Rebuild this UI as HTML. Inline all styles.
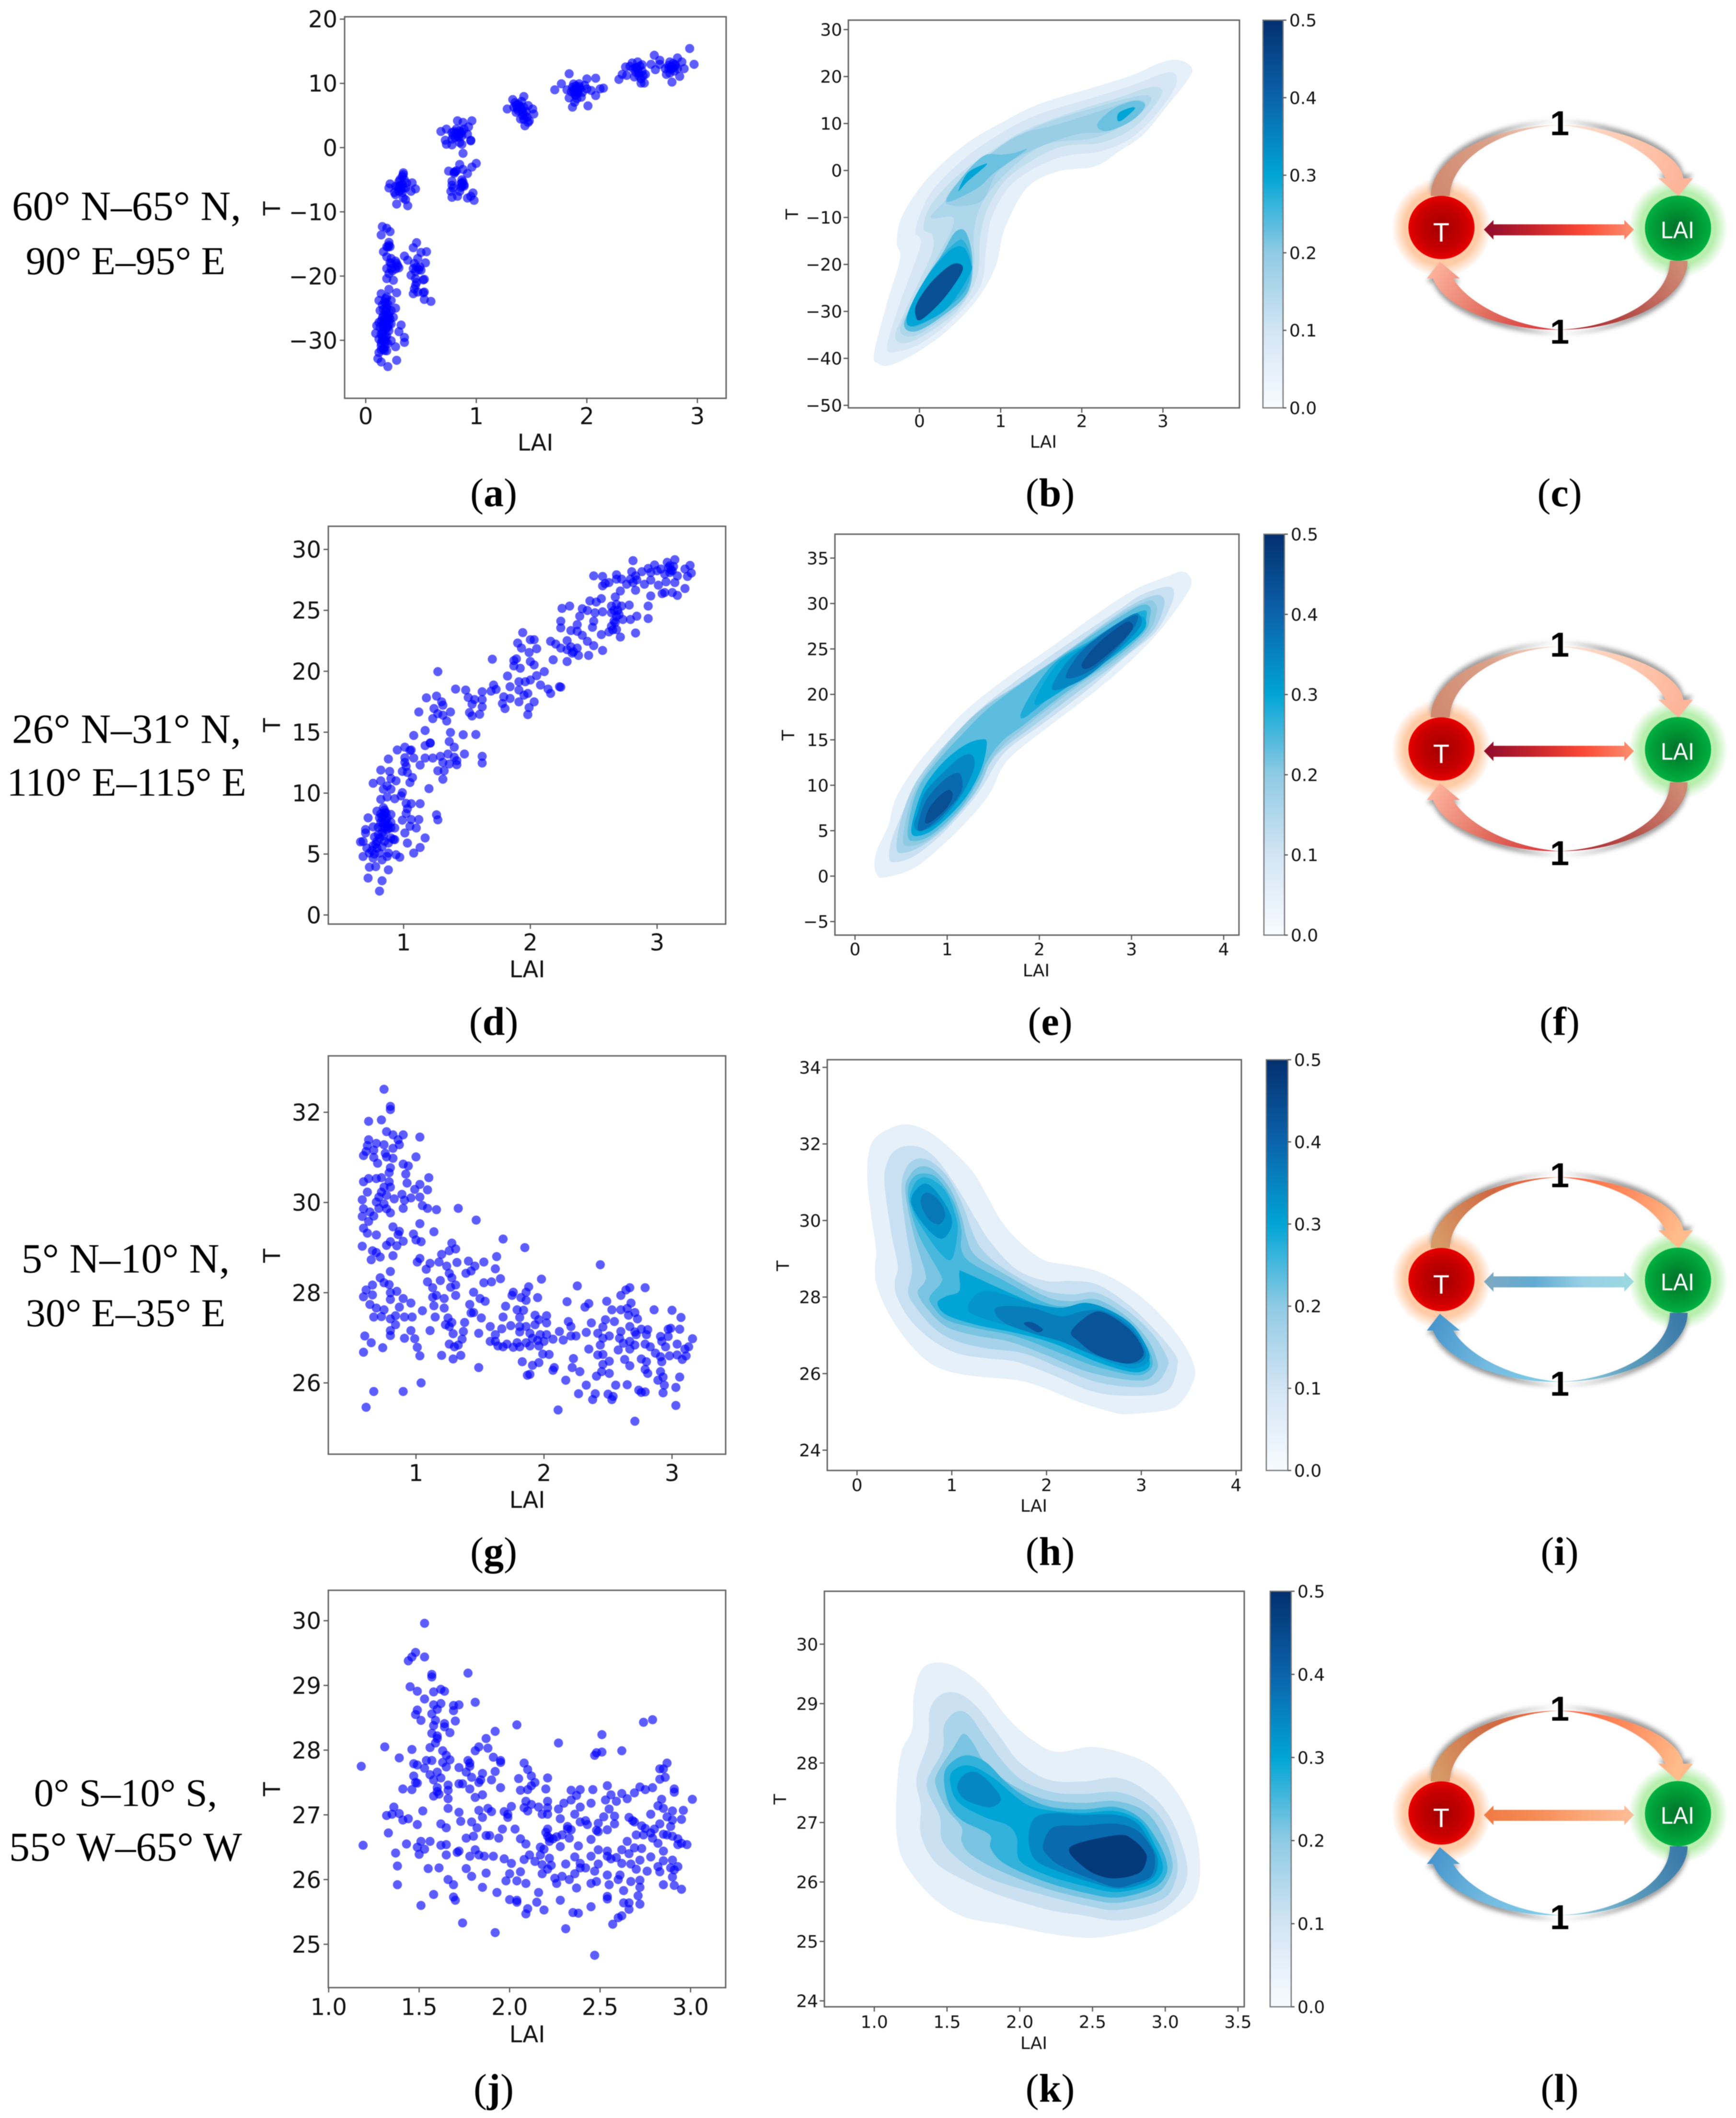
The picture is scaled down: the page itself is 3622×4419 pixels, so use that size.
<!DOCTYPE html>
<html lang="en">
<head>
<meta charset="utf-8">
<title>LAI and temperature scatter, density and causal diagrams</title>
<style>
html,body{margin:0;padding:0;background:#fff}
svg{display:block;filter:blur(.7px)}
.row{font-family:"Liberation Serif",serif;font-size:84px;fill:#000;text-anchor:middle}
.cap{font-family:"Liberation Serif",serif;font-size:84px;fill:#000;text-anchor:middle}
.cap tspan{font-weight:bold}
</style>
</head>
<body>
<svg id="fig" xmlns="http://www.w3.org/2000/svg" width="3622" height="4419" viewBox="0 0 3622 4419">
<rect width="3622" height="4419" fill="#fff"/>
<defs>
<filter id="shadowBlur" x="-20%" y="-20%" width="140%" height="140%"><feGaussianBlur stdDeviation="5"/></filter>
<radialGradient id="glowT"><stop offset="0" stop-color="#ffc9a0"/><stop offset=".75" stop-color="#ffcba6"/><stop offset="1" stop-color="#ffcba6" stop-opacity="0"/></radialGradient>
<radialGradient id="glowL"><stop offset="0" stop-color="#b5eeab"/><stop offset=".75" stop-color="#b8eeae"/><stop offset="1" stop-color="#b8eeae" stop-opacity="0"/></radialGradient>
<radialGradient id="ballT"><stop offset="0" stop-color="#a00000"/><stop offset=".75" stop-color="#cc0000"/><stop offset="1" stop-color="#e80000"/></radialGradient>
<radialGradient id="ballL"><stop offset="0" stop-color="#006f28"/><stop offset=".75" stop-color="#00a038"/><stop offset="1" stop-color="#00b040"/></radialGradient>
</defs>

<text class="row" style="font-size:87px" x="264" y="459">60° N–65° N,</text>
<text class="row" style="font-size:83px" x="262" y="572">90° E–95° E</text>
<text class="row" style="font-size:87px" x="264" y="1550">26° N–31° N,</text>
<text class="row" x="264" y="1660">110° E–115° E</text>
<text class="row" style="font-size:87px" x="262" y="2655">5° N–10° N,</text>
<text class="row" style="font-size:83px" x="262" y="2767">30° E–35° E</text>
<text class="row" style="font-size:82px" x="262" y="3768">0° S–10° S,</text>
<text class="row" style="font-size:86px" x="262" y="3882">55° W–65° W</text>

<text class="cap" x="1030" y="1056">(<tspan>a</tspan>)</text>
<text class="cap" x="2191" y="1056">(<tspan>b</tspan>)</text>
<text class="cap" x="3254" y="1056">(<tspan>c</tspan>)</text>
<text class="cap" x="1030" y="2159">(<tspan>d</tspan>)</text>
<text class="cap" x="2191" y="2159">(<tspan>e</tspan>)</text>
<text class="cap" x="3254" y="2159">(<tspan>f</tspan>)</text>
<text class="cap" x="1030" y="3265">(<tspan>g</tspan>)</text>
<text class="cap" x="2191" y="3265">(<tspan>h</tspan>)</text>
<text class="cap" x="3254" y="3265">(<tspan>i</tspan>)</text>
<text class="cap" x="1030" y="4385">(<tspan>j</tspan>)</text>
<text class="cap" x="2191" y="4385">(<tspan>k</tspan>)</text>
<text class="cap" x="3254" y="4385">(<tspan>l</tspan>)</text>
</svg>

<script>
/* ---------- chart values (LAI, T pairs) ---------- */
const xTicksA=[0,1,2,3];
const yTicksA=[20,10,0,-10,-20,-30];
const scatterA=[2.93,15.43,2.97,12.97,2.61,14.38,2.82,13.96,2.66,13.6,2.86,13.34,2.75,13.34,2.58,12.97,2.46,13.34,2.41,13.18,2.35,12.55,2.32,11.4,2.29,10.62,2.36,11.24,2.42,12.29,2.44,11.77,2.49,10.72,2.52,10.04,2.49,10.04,2.53,11.4,2.62,12.13,2.66,12.97,2.71,12.29,2.76,12.55,2.82,12.29,2.88,12.29,2.84,11.09,2.77,10.2,2.72,11.4,2.5,11.92,2.39,12.66,2.45,12.5,2.47,11.6,2.5,12.9,2.74,12.8,2.78,13.1,2.79,11.9,2.8,12.7,2.43,11,2.51,11.2,2.75,11.6,2.46,12.2,2.48,12.7,2.44,12.4,2.47,11.2,2.76,12.2,2.78,12.4,2.8,12.9,2.74,12.4,
1.84,11.5,1.71,9,1.77,9.94,2,10.7,2.08,10.8,2.15,9.26,2.12,9.15,2.08,8.1,2.01,6.5,1.87,6.3,1.89,7.06,1.84,7.74,1.93,9.94,1.91,9.15,1.82,9,1.87,9.4,1.96,8.6,2,9.15,2.04,8.9,1.98,9.7,1.9,8.1,1.95,7.85,1.89,8.6,1.92,8.9,1.86,8.7,1.94,9.2,1.9,9.6,1.88,9.9,1.9,9.2,1.92,8.5,1.88,8.9,1.93,9.5,1.89,8.3,1.91,7.6,
1.43,7.95,1.33,7.48,1.28,6.01,1.51,6.01,1.52,5.23,1.48,4.18,1.44,3.4,1.4,4.45,1.38,6.8,1.34,6.28,1.38,5.75,1.43,6.28,1.47,6.54,1.36,5.49,1.42,4.97,1.46,4.71,1.47,3.92,1.4,6.3,1.37,6.1,1.41,7.2,1.45,5.6,1.35,7,1.42,5.5,1.39,6.5,1.36,6.6,1.41,5.9,1.44,5,1.43,4.4,
.68,2.51,.73,2.88,.83,4.18,.88,3.92,.96,4.18,.93,3.24,.78,2.35,.85,2.62,.89,2.88,.72,1.15,.73,.52,.78,.42,.87,.52,.88,-.89,.95,1.05,.81,1.57,.87,1.83,.83,2.09,.92,2.09,.78,1.31,.85,.78,.95,1.15,.8,2.5,.84,1.6,.86,2.2,.82,2.9,.79,1.9,.83,1.8,.85,2.1,.82,2.3,.87,2.5,.84,2,
1,-2.46,.96,-3.03,.85,-2.62,.75,-3.66,.81,-3.77,.92,-4.03,.88,-3.4,.78,-5.23,.78,-5.86,.87,-5.49,.89,-6.01,.77,-6.8,.78,-7.74,.83,-7.58,.92,-7.85,.98,-8.21,.97,-7.06,.95,-7.58,.85,-6.8,.87,-5,.86,-6.2,.89,-5.8,.8,-4,.82,-3.6,.79,-6.3,.88,-5.3,.87,-6,.86,-5.6,.8,-3.8,
.34,-3.92,.31,-4.97,.22,-5.65,.21,-6.28,.27,-6.01,.42,-5.49,.45,-6.43,.41,-6.8,.36,-6.28,.3,-6.8,.27,-7.32,.34,-7.85,.28,-8.79,.38,-9.05,.36,-8.1,.33,-5.75,.29,-6.1,.32,-6.6,.37,-5.5,.3,-5.3,.33,-7,.26,-7,.35,-5,.31,-5.9,.34,-6.3,.3,-6.3,.33,-4.5,.34,-4.2,
.46,-14.8,.43,-15.59,.55,-16.21,.5,-16.32,.54,-17.94,.35,-16.89,.38,-17.52,.47,-17.26,.44,-18.04,.49,-18.57,.43,-18.83,.41,-19.87,.5,-19.09,.53,-20.5,.45,-20.4,.45,-21.44,.43,-22.75,.53,-22.49,.53,-23.64,.59,-23.95,.47,-22.49,.45,-19.3,.46,-21,.44,-22,.48,-19,.52,-20.6,.52,-22.6,.46,-18.6,
.15,-12.29,.19,-12.55,.22,-13.08,.14,-13.6,.21,-14.75,.19,-15.43,.22,-15.43,.16,-16.21,.19,-17,.23,-17.26,.23,-18.04,.27,-17.68,.19,-18.83,.23,-18.83,.3,-18.72,.21,-19.61,.19,-20.4,.25,-20.66,.28,-18.04,.2,-15.5,.21,-15.2,.29,-18.4,.27,-18.9,.24,-19.2,.22,-17.9,
.21,-22.07,.28,-22.6,.14,-22.75,.12,-23.8,.19,-23.27,.23,-23.8,.27,-25,.13,-25.37,.19,-24.84,.23,-25.37,.16,-26.15,.21,-26.41,.25,-26.41,.12,-27.2,.19,-27.2,.23,-27.46,.32,-27.62,.1,-27.72,.16,-27.98,.21,-28.5,.3,-28.66,.09,-28.92,.14,-29.03,.19,-29.29,.35,-29.55,.12,-29.81,.16,-30.07,.23,-30.07,.35,-30.33,.14,-30.86,.27,-31.01,.16,-31.38,.12,-31.9,.19,-31.64,.11,-32.85,.14,-33.37,.28,-33.11,.2,-34.1,.15,-24.5,.18,-25.5,.2,-26,.17,-26.8,.14,-27,.16,-28.5,.18,-29.5,.2,-28,.21,-27.5,.15,-30,.17,-31,.13,-28,.19,-25,.17,-24,.16,-29.3,.2,-30.5,.14,-31.5,.18,-26.2,.2,-26.6,.17,-27.3,.19,-27.9,.16,-27.5,.18,-28.2,.15,-28.8,.18,-30.2,.15,-29.5,.17,-29.9,.14,-30.4,.17,-31.6,.19,-26.9,.21,-25.8,.16,-25.2,.18,-24.2,.2,-24.4,.18,-23.5,.15,-26.5,.22,-26.7];

const xTicksD=[1,2,3];
const yTicksD=[30,25,20,15,10,5,0];
const scatterD=[2.81,29.08,3.14,29.16,3.26,28.69,3.22,28.39,3.27,28.06,3.24,27.78,3.22,26.79,3.16,26.23,3.06,26.46,3.04,26.37,2.95,26.18,2.93,25.35,2.93,24.33,2.84,24.52,2.83,23.14,2.98,28.72,3.08,28.94,3.1,28.66,2.93,28.44,3.03,28.39,2.95,28.11,3.06,27.97,3.12,28.25,3.16,27.83,3.14,27.28,3.07,27.34,3.01,27.06,2.95,27.48,2.88,28.17,2.8,28.17,2.83,27.83,2.9,27.14,2.83,26.65,2.81,27.28,2.79,27.56,2.76,27.14,2.68,27.92,2.68,27.56,2.72,27.56,2.62,27.28,2.59,27.2,2.57,27.78,2.5,27.83,2.57,27.01,3,28.25,3.12,26.46,3.09,28.5,3.11,28.3,3.1,28.1,3.13,28.6,2.84,27.5,
2.71,26.59,2.67,26.1,2.56,25.96,2.47,25.77,2.52,25.68,2.31,25.35,2.25,25.16,2.41,25.13,2.45,24.99,2.51,24.8,2.57,24.88,2.64,25.35,2.68,25.49,2.72,25.35,2.78,25.43,2.64,24.8,2.7,24.66,2.73,24.25,2.79,24.25,2.66,24.11,2.39,24.52,2.24,24.11,2.37,23.83,2.5,24.11,2.24,23.56,2.32,23.34,2.37,23.28,2.41,22.95,2.49,23.61,2.56,23.01,2.62,23.23,2.68,23.42,2.64,23.7,2.71,22.81,2.45,22.46,2.5,22.1,2.57,21.71,2.46,21.3,2.38,21.3,2.33,21.49,2.29,20.8,2.37,21.9,2.29,22.51,2.24,21.9,2.16,22.46,2.2,22.23,2.18,20.94,2.29,21.77,2.66,25,2.68,24.5,2.69,25,2.65,23.4,2.67,24,2.32,22,2.34,21.6,
1.94,23.17,2,22.59,2.03,22.59,1.9,22.32,1.93,21.9,2.05,21.85,1.99,21.54,2,20.8,2.03,20.52,1.89,21.02,1.87,20.88,1.7,20.99,1.87,20.44,1.92,20.25,2.11,19.97,2.05,19.64,1.82,19.61,2,19.28,1.96,19.14,1.91,19.14,1.71,18.87,1.84,18.73,2.08,18.87,2.23,18.73,2.14,18.54,2.16,18.18,1.91,18.46,1.98,18.18,1.73,18.51,1.69,18.37,1.79,17.9,1.84,17.77,1.91,17.49,2.03,17.49,1.78,17.35,1.8,16.94,1.99,17.02,1.98,16.44,1.95,18.04,2.24,18.7,
1.27,19.97,1.41,18.54,1.49,18.46,1.62,18.32,1.26,17.96,1.18,17.82,1.3,17.49,1.31,17.21,1.24,16.94,1.51,17.85,1.56,17.68,1.62,17.68,1.54,17.3,1.62,17.08,1.12,16.66,1.27,16.52,1.37,16.66,1.31,16.39,1.52,16.61,1.6,16.47,1.54,16.33,1.23,16.11,1.34,15.92,1.17,15.14,1.08,14.73,1.37,14.98,1.57,14.81,1.47,14.79,1.36,14.23,1.21,14.12,1.17,13.9,1.4,13.77,1.01,13.77,.95,13.54,1.06,13.54,1.48,13.21,1.62,13.02,1.62,12.47,1.08,12.88,1.17,12.88,1.23,12.88,1.29,13.02,1.35,13.21,1.4,12.94,1.42,12.66,1.42,12.33,1.31,12.52,1.36,12.39,.88,12.8,1.01,12.52,1.13,12.3,1.27,11.83,1.32,11.83,.82,11.89,.89,11.78,.99,11.78,1.03,11.7,1.07,11.28,1.31,11.14,.9,11.2,.82,11.01,.76,10.81,.94,11.01,1.05,10.87,1.2,10.37,.87,10.59,.84,10.32,.9,10.32,.99,10.04,.98,9.77,1.02,12.2,1.01,12.9,1.21,14.1,1.05,13.5,
.82,9.49,.93,9.54,.87,9.68,1.02,9.16,1.13,9.13,1.06,9.13,1.03,8.72,1.26,8.22,1.27,7.81,1.02,8.33,.79,8.52,.72,7.97,.85,8.39,.81,7.97,.87,7.97,.9,8.25,.76,7.23,.7,7.01,.85,7.14,.9,7.14,.99,7.78,1.06,7.83,1.12,7.83,1.05,7.28,1.1,7.14,.83,6.73,.93,7.14,.7,6.73,1.01,6.73,.77,6.4,1.17,6.32,.9,6.32,.93,6.18,.79,6.04,.68,6.04,.85,6.04,.88,5.9,1.03,5.9,1.13,5.54,.71,5.49,.79,5.49,1.08,5.08,.73,5.08,.81,5.08,.88,5.08,.68,4.8,.76,4.66,.87,4.8,.97,4.74,.94,4.94,.83,4.52,.73,3.92,.78,3.97,.88,3.7,.72,3.03,.83,2.81,.81,1.96,.83,8,.84,7.5,.86,7.8,.88,7.4,.85,8.6,.82,7.6,.87,7,.8,7.2,.84,6.5,.78,5.8,.81,6.3,.75,5.3,.9,7.6,.84,8.2,.86,8.4,.83,7.2,.85,7.7,.87,7.3,.82,8.3,.88,7.1,.8,6.6,.83,5.6,.77,5,.76,5.7,.66,6,.84,8.8,.92,6.2];

const xTicksG=[1,2,3];
const yTicksG=[32,30,28,26];
const scatterG=[.75,32.51,.8,32.13,.8,32.06,.63,31.8,.73,31.83,.77,31.57,.82,31.5,.9,31.5,1.03,31.45,.86,31.39,.87,31.28,.63,31.39,.62,31.26,.69,31.31,.75,31.28,.61,31.13,.67,31.16,.76,31.09,.82,31.2,.59,31.04,.67,31,.77,31.01,.82,30.98,1,31.01,.7,30.87,.9,30.85,.94,30.81,.8,30.77,.92,30.63,.79,30.66,1.1,30.55,.59,30.46,.63,30.53,.69,30.53,.73,30.55,.93,30.43,1.03,30.4,.79,30.46,.75,30.34,.8,30.34,.99,30.29,1.09,30.28,.62,30.23,.73,30.23,.89,30.18,.77,30.16,1.03,30.12,.58,30.06,.71,30.12,.83,30.08,.96,30.1,.91,30.05,.69,30.01,.75,29.97,1.05,29.93,1.09,29.87,1.16,29.84,1.33,29.87,.59,29.86,.71,29.87,.77,29.86,.9,29.87,.64,29.79,.8,29.77,.58,29.69,.67,29.7,.63,29.58,1.03,29.53,1.47,29.61,.82,29.46,.59,29.43,.87,29.36,1.14,29.35,.62,29.32,.98,29.3,.69,29.28,.86,29.29,1,29.17,1.68,29.19,1.04,29.13,.8,29.13,.9,29.14,.77,29.05,1.28,29.1,1.85,29,.58,29.03,.85,29.04,1.31,28.97,1.26,28.93,.66,28.93,.69,28.89,1.2,28.85,.82,28.82,1.63,28.8,.72,28.79,1.03,28.76,.65,28.73,1.01,28.68,1.18,28.68,1.32,28.67,1.41,28.7,1.53,28.68,1.11,28.65,2.44,28.62,1.24,28.59,1.46,28.59,1.62,28.53,1.08,28.52,.8,28.47,1.26,28.43,1.43,28.48,1.39,28.43,.72,28.33,1.28,28.33,1.66,28.31,1.98,28.3,1.09,28.24,1.19,28.27,.75,28.22,1.59,28.24,1.53,28.22,.79,28.18,1.31,28.17,2.26,28.15,.66,28.17,1.13,28.11,1.27,28.12,2.79,28.11,2.67,28.11,2.64,28.06,.61,28.06,.85,28.03,1.45,28.01,1.76,28.01,1.88,28.13,.66,27.95,.8,28,1.75,27.94,1.86,28.01,2.6,27.94,.59,27.91,1.31,27.94,1.13,27.9,1.16,27.94,.9,27.87,1.95,27.89,1.82,27.89,1.86,27.83,.8,27.85,2.49,27.81,2.18,27.8,1.22,27.87,1.5,27.87,1.54,27.81,.96,27.77,1.14,27.71,1.42,27.74,2.35,27.76,2.68,27.77,1.7,27.7,1.22,27.66,.64,27.74,.87,27.68,.69,27.66,2.32,27.68,2.53,27.62,2.86,27.62,3,27.61,1.79,27.62,1.84,27.61,.75,27.62,1.05,27.6,2.65,27.65,2.6,27.62,2.71,27.56,1.43,27.55,1.45,27.56,2.02,27.49,1.93,27.5,.84,27.49,.73,27.47,.67,27.46,.91,27.46,.97,27.46,1.68,27.46,1.81,27.45,1.15,27.46,1.51,27.44,3.07,27.45,2.66,27.5,2.73,27.42,2.48,27.4,.8,27.42,1.25,27.44,1.96,27.4,2.19,27.36,1.28,27.34,2.55,27.36,2.02,27.33,1.38,27.34,1.93,27.29,.84,27.29,2.37,27.33,1.23,27.29,1.58,27.25,1.74,27.27,2.21,27.25,1.81,27.25,1.86,27.25,2.67,27.25,1.26,27.25,1.67,27.2,2.46,27.24,2.97,27.19,2.99,27.21,3.06,27.19,2.81,27.18,2.76,27.19,.96,27.16,1.11,27.16,.8,27.16,1.37,27.14,1.81,27.13,2.6,27.14,1.49,27.1,1.89,27.1,1.29,27.09,2.33,27.12,2.42,27.1,2.71,27.13,2.02,27.07,2.12,27.14,1.62,27.07,2.21,27.04,2.25,27.04,.8,27.05,1.97,27.07,2.8,27.07,2.72,27.07,2.91,27.03,2.51,27.04,.6,27.04,2.97,27.03,2.46,26.99,2.59,26.99,.91,26.99,1.36,26.97,1.91,26.99,3.16,26.98,.99,26.98,2.07,26.97,2.15,26.95,1.62,26.92,1.95,26.94,2.92,26.92,2.67,26.92,1.58,26.92,1.71,26.86,2,26.92,.65,26.89,2.62,26.88,1.79,26.89,1.86,26.89,1.26,26.86,2.44,26.84,2.71,26.84,1.33,26.84,2.79,26.86,3.04,26.86,1.64,26.82,1.89,26.82,1.68,26.8,1.76,26.79,1.81,26.8,1.96,26.82,1.3,26.8,1.01,26.79,.74,26.78,2.83,26.8,2.95,26.8,3.13,26.8,2.35,26.75,2.67,26.75,2.58,26.73,3.1,26.75,2.87,26.66,.59,26.68,1.99,26.64,2.04,26.63,1.03,26.6,1.2,26.61,2.42,26.62,2.46,26.63,1.35,26.61,3.11,26.6,3.04,26.62,2.98,26.6,2.91,26.58,3.08,26.52,2.23,26.54,2.63,26.52,2.76,26.53,1.29,26.53,1.83,26.47,2.8,26.47,2.51,26.48,2.46,26.41,2.92,26.47,1.96,26.45,1.91,26.39,2.67,26.38,2.08,26.34,2.22,26.34,1.49,26.34,2.07,26.28,2.79,26.3,2.28,26.25,2.45,26.25,2.51,26.21,2.91,26.25,2.81,26.21,1.89,26.19,1.87,26.17,2.41,26.15,3.06,26.13,2.93,26.13,2.17,26.06,2.89,26.06,1.04,26,2.33,25.95,2.56,25.95,2.65,25.96,2.94,25.95,3.03,25.9,.9,25.81,.67,25.81,2.74,25.84,2.79,25.8,2.76,25.79,2.93,25.78,2.27,25.76,2.4,25.76,2.5,25.75,2.54,25.7,2.38,25.63,2.53,25.63,3.03,25.5,.61,25.46,2.11,25.4,2.71,25.15];

const xTicksJ=[1,1.5,2,2.5,3];
const yTicksJ=[30,29,28,27,26,25];
const scatterJ=[1.53,29.96,1.48,29.51,1.53,29.44,1.46,29.44,1.44,29.38,1.57,29.17,1.57,29.13,1.77,29.19,1.45,28.98,1.49,28.91,1.62,28.94,1.64,28.91,1.58,28.9,1.53,28.79,1.81,28.74,1.58,28.7,1.62,28.72,1.69,28.69,1.72,28.7,1.49,28.62,1.6,28.63,1.69,28.61,1.48,28.55,1.57,28.56,1.51,28.46,1.59,28.46,1.7,28.45,1.58,28.38,1.64,28.41,2.04,28.39,2.74,28.43,2.79,28.47,1.64,28.36,1.92,28.29,1.67,28.27,1.57,28.26,1.6,28.22,2.51,28.24,1.6,28.18,1.87,28.18,2.27,28.11,1.59,28.11,1.83,28.05,1.31,28.05,1.56,28.04,1.88,28.03,1.46,28.01,1.81,27.99,2.62,27.99,2.51,27.97,1.63,27.99,2.48,27.96,2.47,27.92,1.65,27.92,1.91,27.89,1.39,27.88,1.67,27.85,1.95,27.84,1.54,27.84,1.57,27.84,1.77,27.84,1.95,27.81,1.63,27.81,1.47,27.79,1.49,27.77,1.78,27.8,2.08,27.8,2.87,27.8,1.65,27.74,1.18,27.75,1.72,27.73,1.53,27.72,1.78,27.75,2.1,27.7,2.83,27.71,2.85,27.71,1.6,27.66,1.76,27.66,1.85,27.64,1.92,27.67,1.56,27.62,1.47,27.6,1.79,27.58,2.21,27.57,2.12,27.6,2.05,27.56,2.86,27.58,2.83,27.55,1.58,27.54,1.62,27.57,1.84,27.54,1.9,27.54,1.83,27.5,2.14,27.5,1.48,27.5,1.49,27.49,1.72,27.48,1.74,27.48,1.66,27.46,2.54,27.45,2.12,27.45,1.95,27.42,2.72,27.43,2.79,27.42,1.41,27.4,1.46,27.39,1.6,27.42,1.78,27.4,2.1,27.39,2.2,27.4,2.34,27.38,2.39,27.39,2.46,27.39,2.75,27.39,2.91,27.4,2.91,27.35,1.6,27.36,1.66,27.38,1.61,27.32,2.06,27.38,2.62,27.33,2.56,27.31,2.69,27.34,1.85,27.31,2.37,27.3,1.81,27.27,1.58,27.29,1.66,27.25,2.65,27.25,3.01,27.24,2.53,27.23,2.84,27.24,2.21,27.21,2.59,27.21,2.34,27.23,2.09,27.21,2.3,27.18,2.45,27.18,2.82,27.14,2.12,27.16,2.01,27.13,1.36,27.12,2.16,27.12,2.21,27.11,2.08,27.11,2.39,27.12,1.66,27.1,1.88,27.1,2.85,27.1,2.27,27.09,2.55,27.09,1.83,27.07,1.52,27.06,2.96,27.07,1.9,27.05,1.97,27.05,2.9,27.06,2.1,27.06,1.72,27.04,1.39,27.02,2.78,27.01,2.21,27.01,1.99,27.01,2.18,27.01,1.32,26.99,1.35,27.01,2.36,27.01,2.87,26.97,2.52,26.97,1.85,26.96,2.58,26.98,1.99,26.96,2.66,26.96,2.28,26.94,2.95,26.93,2.9,26.92,1.44,26.94,1.41,26.92,2.68,26.91,2.69,26.89,1.73,26.9,2.39,26.89,1.62,26.86,1.79,26.89,2.83,26.86,2.42,26.91,2.49,26.87,1.49,26.85,2.58,26.86,2.43,26.85,2.73,26.83,2.32,26.82,2.89,26.82,2.75,26.79,1.65,26.8,1.82,26.8,2.32,26.78,2.54,26.77,2.03,26.78,1.96,26.78,2.48,26.76,2.34,26.77,2.8,26.78,2.21,26.78,2.49,26.74,2.2,26.73,2.78,26.72,1.33,26.72,2.85,26.7,2.7,26.69,2.87,26.69,2.21,26.67,2.29,26.69,2.26,26.66,1.87,26.68,1.89,26.68,2.74,26.69,2.9,26.67,1.8,26.67,2.22,26.64,2.24,26.63,1.94,26.64,1.76,26.64,2.33,26.64,2.79,26.64,2.93,26.63,2.95,26.56,2.06,26.63,2.45,26.62,2.65,26.59,2.22,26.59,2.82,26.56,1.56,26.59,1.51,26.59,2.09,26.55,2.98,26.54,2.93,26.54,1.19,26.53,1.62,26.53,1.65,26.54,1.43,26.55,2.38,26.52,2.28,26.51,2.73,26.48,2.69,26.49,2.17,26.5,1.49,26.5,1.53,26.47,2.49,26.46,1.81,26.46,2.54,26.44,2.62,26.46,2.19,26.47,1.72,26.44,1.71,26.42,2.85,26.44,1.37,26.41,1.5,26.39,1.65,26.38,2.11,26.38,1.83,26.38,2.17,26.38,2.66,26.4,1.91,26.36,1.78,26.36,1.86,26.36,2.78,26.35,2.45,26.36,2.54,26.36,2.36,26.35,2.08,26.31,1.97,26.32,2.22,26.33,2.59,26.34,2.56,26.32,2.85,26.29,2.9,26.3,2.72,26.3,2.14,26.28,2.31,26.24,2.39,26.25,2.01,26.25,2.49,26.24,2.62,26.25,2.67,26.24,1.38,26.21,2.18,26.23,2.23,26.22,2.82,26.2,2.93,26.2,2.42,26.18,1.55,26.17,1.61,26.18,1.76,26.17,2.39,26.18,2.89,26.18,2.21,26.16,2.7,26.16,2.47,26.13,2.06,26.12,2,26.09,2.83,26.12,1.87,26.1,2.76,26.13,2.18,26.09,2.91,26.15,2.36,26.09,2.54,26.07,2.61,26.07,2.29,26.05,1.79,26.05,2.9,26.04,1.66,26,2.25,26.02,2.33,26,1.98,25.98,2.04,25.98,2.6,26,2.72,25.99,2.67,25.97,2.48,25.97,2.45,25.94,2.26,25.94,2.09,25.94,2.55,25.92,1.69,25.92,2.85,25.92,1.38,25.92,2.91,25.91,2.72,25.88,1.85,25.88,2.37,25.87,2.95,25.85,2.63,25.83,2.16,25.8,1.93,25.8,1.58,25.77,2.71,25.75,2.54,25.74,1.69,25.73,2.54,25.7,1.7,25.68,2,25.69,2.28,25.68,2.04,25.68,2.04,25.65,2.15,25.65,2.63,25.64,2.66,25.64,2.72,25.62,1.51,25.6,2.45,25.58,2.1,25.55,2.19,25.53,2.66,25.54,2.35,25.49,2.38,25.48,2.09,25.47,2.62,25.44,2.6,25.41,2.57,25.31,1.74,25.33,2.31,25.24,1.92,25.18,2.47,24.83];

/* density panels: contour level value + closed contour (LAI, T pairs) */
const xTicksB=[0,1,2,3];
const yTicksB=[30,20,10,0,-10,-20,-30,-40,-50];
const kdeBLevels=[.05,.09,.125,.155,.24,.185,.27,.225,.225,.3,.3,.3,.44];
const kdeBContours=[
[-.56,-38.92,-.51,-41.08,-.36,-41.43,-.05,-38.92,.33,-34.27,.71,-27.46,.94,-20.29,1.05,-12.4,1.32,-3.8,1.7,-.22,2.16,.86,2.46,4.09,2.76,7.67,3.07,14.12,3.3,19.14,3.36,21.65,3.22,23.44,2.99,23.08,2.61,20.22,2.08,17.35,1.47,14.12,1.01,10.18,.56,5.52,.1,-1.65,-.21,-9.53,-.28,-15.27,-.24,-18.85,-.4,-28.17],
[-.4,-37.49,-.28,-38.57,.02,-36.77,.4,-31.76,.75,-24.59,.82,-16.7,.9,-9.53,1.17,-2.37,1.7,2.65,2.23,4.09,2.61,6.95,2.92,11.97,3.15,17.71,3.15,20.57,2.99,20.57,2.61,18.06,2.08,15.2,1.47,11.97,1.01,8.03,.56,2.65,.18,-3.8,.02,-8.82,-.05,-13.12,.01,-15.99,-.24,-28.17],
[-.3,-35.34,-.17,-36.77,.1,-34.62,.48,-29.61,.71,-22.44,.75,-13.84,.86,-7.38,1.13,-.93,1.7,4.8,2.23,5.88,2.61,8.75,2.88,13.41,2.99,16.99,2.84,17.71,2.46,15.56,1.93,12.69,1.32,8.75,.94,4.8,.48,-.93,.14,-7.38,.05,-12.4,.16,-13.84,.14,-18.14,-.17,-29.61],
[-.24,-33.91,-.09,-35.34,.18,-32.83,.56,-27.46,.67,-20.29,.67,-13.12,.78,-6.67,1.09,-.22,1.55,5.52,2.16,6.95,2.61,10.54,2.83,14.12,2.83,15.91,2.61,15.56,2.16,13.41,1.62,10.54,1.17,6.95,.86,2.65,.48,-3.8,.18,-8.82,.16,-10.25,.4,-9.89,.4,-12.4,.25,-17.42,-.09,-28.17],
[-.19,-32.83,-.05,-34.27,.25,-31.4,.59,-26.02,.65,-18.85,.57,-13.12,.44,-13.12,.29,-17.42,-.05,-27.46],
[.33,-7.03,.75,-6.67,.97,-.22,1.36,4.09,1.93,7.67,2.31,8.39,2.69,11.97,2.78,14.48,2.61,14.84,2.23,12.69,1.7,9.82,1.24,7.67,.86,3.37,.48,-2.37],
[-.16,-31.76,-.05,-33.19,.29,-29.96,.57,-25.3,.64,-19.57,.54,-14.91,.4,-15.99,.18,-20.29,-.05,-26.74],
[.34,-6.67,.71,-3.8,.94,-.22,1.32,4.44,1.17,3.73,1.01,3.37,.78,3.01,.48,-2.37],
[2.19,9.82,2.31,8.39,2.61,10.54,2.78,13.76,2.65,14.84,2.38,13.05],
[-.16,-32.2,-.05,-33,.33,-29.5,.62,-22.08,.63,-19.57,.54,-16.34,.37,-17.06,.1,-22.44,-.09,-28.17],
[.48,-4.37,.59,-2.37,.82,1.08,.78,1.22,.59,-.57],
[2.44,10.68,2.5,10.75,2.65,13.05,2.61,13.41,2.46,12.33],
[-.05,-30.68,.02,-31.76,.29,-27.46,.52,-21.72,.5,-19.93,.37,-20.29,.14,-23.87,-.03,-28.17]];

const xTicksE=[0,1,2,3,4];
const yTicksE=[35,30,25,20,15,10,5,0,-5];
const kdeELevels=[.05,.115,.165,.2,.235,.3,.345,.39,.44,.28,.3,.345,.39,.44];
const kdeEContours=[
[.21,1.26,.24,.15,.32,-.15,.64,.89,.96,3.49,1.27,6.64,1.47,9.23,1.59,11.83,1.75,13.68,2.15,16.83,2.63,20.54,3.03,24.06,3.34,27.4,3.58,30.74,3.65,32.22,3.62,33.15,3.54,33.52,3.38,32.96,3.1,31.85,2.87,30.55,2.55,28.33,2.15,25.36,1.75,22.58,1.43,20.17,1.15,17.76,.88,14.79,.64,11.83,.44,8.49,.36,5.52,.24,2.93],
[.37,2.19,.42,1.52,.64,2.19,.92,4.41,1.21,7.56,1.39,9.97,1.53,12.38,1.69,14.24,2.07,17.02,2.55,20.73,2.95,24.25,3.26,26.85,3.42,29.63,3.46,31.29,3.38,31.85,3.1,30.92,2.83,29.07,2.47,26.66,2.07,23.88,1.67,20.91,1.37,18.5,1.11,15.91,.84,12.57,.64,9.6,.5,6.64,.4,4.04],
[.45,3.11,.52,2.56,.72,3.3,1,5.52,1.31,9.23,1.43,11.83,1.59,13.87,1.95,16.65,2.43,20.36,2.87,23.69,3.22,26.85,3.34,29.25,3.35,30.55,3.26,30.92,3.03,30,2.75,28.14,2.31,24.81,1.83,21.47,1.43,18.87,1.15,16.28,.88,13.31,.64,9.97,.5,6.27],
[.52,4.04,.58,3.3,.8,4.04,1.11,6.82,1.35,9.97,1.47,12.57,1.61,14.42,1.83,16.28,2.35,20.36,2.83,23.69,3.18,26.85,3.27,28.88,3.26,30,3.18,30.29,2.95,29.25,2.67,27.4,2.23,24.25,1.75,20.91,1.39,18.5,1.15,16.28,.88,12.94,.68,9.97,.58,7.38],
[.57,4.6,.64,3.86,.84,4.6,1.15,7.56,1.35,10.72,1.43,12.57,1.59,14.79,1.83,16.65,2.31,20.36,2.81,23.88,3.14,26.85,3.2,28.51,3.2,29.63,3.1,29.81,2.87,28.51,2.59,26.66,2.19,23.88,1.79,21.1,1.45,18.5,1.19,15.91,.92,12.94,.72,10.34,.62,7.75],
[.61,4.97,.68,4.41,.88,5.34,1.19,8.49,1.37,11.83,1.43,14.61,1.37,15.05,1.19,14.42,.96,12.57,.76,9.97,.66,7.38],
[.64,5.52,.72,4.97,.92,6.08,1.15,8.86,1.29,11.83,1.27,13.31,1.15,13.13,.96,11.46,.76,9.23,.68,7.01],
[.68,5.34,.76,5.15,.96,6.82,1.15,9.23,1.15,11.09,1.07,11.27,.92,10.16,.76,8.12],
[.76,5.9,.84,6.08,1,7.56,1.06,8.86,1.02,9.49,.92,8.86,.8,7.38],
[1.83,17.4,2.23,20.54,2.79,24.06,3.1,26.85,3.16,28.51,3.14,29.25,2.93,28.33,2.55,25.92,2.15,23.32,1.85,19],
[1.95,18.87,2.35,21.1,2.83,24.43,3.13,27.03,3.13,28.51,2.97,28.33,2.59,25.92,2.19,23.32],
[2.14,20.54,2.47,21.65,2.83,24.62,3.09,27.4,3.09,28.7,2.99,28.7,2.63,26.29,2.31,23.69],
[2.29,21.84,2.55,22.58,2.87,25.36,3.05,27.77,3.03,28.7,2.71,26.85,2.43,24.43],
[2.46,23.32,2.55,22.95,2.83,25.18,3,27.03,3,27.85,2.91,27.77,2.63,25.55]];

const xTicksH=[0,1,2,3,4];
const yTicksH=[34,32,30,28,26,24];
const kdeHLevels=[.05,.115,.165,.215,.25,.28,.3,.33,.37,.325,.36,.43,.43];
const kdeHContours=[
[.11,31.01,.12,31.72,.19,32.15,.36,32.42,.54,32.51,.75,32.33,.98,31.89,1.22,31.28,1.37,30.66,1.53,29.96,1.76,29.34,1.99,28.95,2.26,28.83,2.53,28.68,2.84,28.29,3.15,27.67,3.42,26.88,3.56,26.18,3.54,25.74,3.42,25.26,3.27,25.05,2.92,24.95,2.73,24.97,2.34,25.26,1.95,25.65,1.68,25.83,1.29,25.92,.98,26.05,.75,26.31,.52,26.88,.33,27.59,.21,28.29,.19,28.73,.2,29.25,.15,30.13],
[.29,31.01,.33,31.58,.44,31.89,.64,31.93,.83,31.63,1.06,30.84,1.25,30.05,1.41,29.43,1.68,28.73,1.99,28.42,2.26,28.42,2.53,28.33,2.84,27.85,3.11,27.23,3.35,26.53,3.38,26.18,3.31,25.65,3.15,25.45,2.76,25.43,2.45,25.56,2.07,25.96,1.68,26.31,1.37,26.4,1.06,26.53,.79,26.88,.56,27.41,.42,28.02,.4,28.42,.43,28.82,.36,29.69],
[.47,30.75,.5,31.28,.6,31.58,.75,31.58,.94,31.19,1.1,30.49,1.22,29.69,1.33,29.21,1.56,28.73,1.95,28.2,2.26,28.07,2.53,28.11,2.84,27.67,3.11,27.06,3.27,26.44,3.27,26.14,3.15,25.74,2.92,25.65,2.53,25.78,2.15,26.14,1.76,26.53,1.37,26.66,1.06,26.84,.83,27.15,.64,27.67,.54,28.11,.58,28.73,.52,29.69],
[.51,30.75,.56,31.19,.67,31.41,.81,31.32,.98,30.84,1.1,30.13,1.16,29.52,1.25,29.08,1.53,28.64,1.99,28.02,2.26,27.89,2.53,27.94,2.84,27.5,3.07,26.88,3.17,26.31,3.15,26.05,3.04,25.83,2.76,25.87,2.38,26.09,1.99,26.49,1.6,26.84,1.22,27.01,.94,27.23,.75,27.67,.64,28.11,.71,28.38,.72,28.64,.6,29.61],
[.54,30.84,.6,31.14,.71,31.23,.85,31.1,1.02,30.49,1.1,29.78,1.1,29.25,1.2,28.9,1.53,28.46,1.99,27.85,2.26,27.76,2.53,27.8,2.84,27.32,3.04,26.79,3.12,26.31,3.07,26.05,2.92,25.96,2.53,26.18,2.15,26.53,1.68,26.97,1.25,27.19,.94,27.41,.79,27.8,.77,28.02,.89,28.38,.87,28.64,.67,29.52,.56,30.31],
[.56,30.66,.64,31.06,.77,31.1,.94,30.75,1.04,30.13,1.06,29.69,1,28.99,.87,29.17,.67,29.87,.58,30.31],
[.85,27.85,.94,28.02,1.08,28.16,1.08,28.64,1.14,28.64,1.53,28.2,1.99,27.72,2.26,27.63,2.53,27.72,2.84,27.23,3,26.75,3.09,26.31,3.04,26.09,2.88,26.05,2.53,26.31,2.07,26.79,1.68,27.06,1.25,27.28,.94,27.54],
[.57,30.49,.67,30.92,.79,30.88,.96,30.31,1,29.87,.89,29.52,.71,29.87],
[.67,30.49,.73,30.73,.85,30.57,.93,30.18,.87,29.9,.75,30.05],
[1.17,27.67,1.27,28.09,1.45,28.13,1.84,27.85,2.15,27.72,2.42,27.85,2.69,27.63,2.92,27.23,3.07,26.62,3.07,26.31,2.92,26.14,2.65,26.31,2.15,26.84,1.76,27.15,1.37,27.41],
[1.45,27.63,1.53,27.76,1.84,27.72,2.15,27.5,2.38,27.63,2.61,27.63,2.88,27.23,3.04,26.62,3,26.31,2.8,26.27,2.46,26.53,2.15,26.84,1.84,27.06,1.56,27.32],
[2.26,27.1,2.45,27.54,2.61,27.59,2.88,27.15,3.02,26.62,2.98,26.36,2.82,26.27,2.53,26.49,2.34,26.84],
[1.76,27.32,1.85,27.34,1.96,27.16,1.91,27.08,1.82,27.19]];

const xTicksK=[1,1.5,2,2.5,3,3.5];
const yTicksK=[30,29,28,27,26,25,24];
const kdeKLevels=[.05,.11,.16,.215,.265,.3,.345,.345,.39,.48];
const kdeKContours=[
[1.16,27.75,1.19,28.22,1.26,28.57,1.27,29.11,1.32,29.55,1.42,29.69,1.57,29.61,1.75,29.28,1.92,28.75,2.08,28.4,2.25,28.19,2.48,28.27,2.68,28.19,2.91,27.95,3.08,27.51,3.2,26.92,3.24,26.27,3.21,25.8,3.11,25.53,2.91,25.26,2.68,25.12,2.48,25.06,2.23,25.12,1.9,25.28,1.62,25.41,1.4,25.74,1.22,26.27,1.16,26.68,1.15,27.16],
[1.29,27.75,1.37,28.37,1.38,28.87,1.45,29.14,1.57,29.18,1.7,28.96,1.85,28.49,2,28.01,2.2,27.72,2.43,27.69,2.68,27.75,2.88,27.51,3.03,27.1,3.13,26.51,3.15,26.09,3.08,25.74,2.93,25.47,2.68,25.35,2.43,25.44,2.2,25.53,1.87,25.77,1.62,26.03,1.42,26.33,1.32,26.8,1.32,27.27],
[1.37,27.75,1.47,28.22,1.48,28.63,1.56,28.86,1.65,28.81,1.77,28.4,1.9,27.98,2.03,27.69,2.23,27.51,2.43,27.48,2.68,27.51,2.88,27.3,3.01,26.92,3.08,26.39,3.07,26.03,2.98,25.71,2.68,25.53,2.48,25.59,2.18,25.77,1.82,26.03,1.62,26.3,1.47,26.68,1.45,27.1,1.37,27.51],
[1.43,27.81,1.55,28.28,1.61,28.49,1.67,28.37,1.77,27.98,1.95,27.63,2.18,27.39,2.43,27.33,2.66,27.36,2.86,27.19,2.98,26.8,3.05,26.33,3.02,26.03,2.93,25.8,2.68,25.65,2.48,25.71,2.18,25.89,1.87,26.18,1.67,26.45,1.6,26.68,1.6,26.92,1.5,27.22,1.43,27.57],
[1.48,27.81,1.55,28.05,1.65,28.13,1.77,28.01,1.9,27.69,2.03,27.45,2.2,27.27,2.43,27.22,2.66,27.26,2.83,27.07,2.95,26.68,3.01,26.33,3,26.09,2.91,25.89,2.68,25.74,2.48,25.8,2.18,26,1.9,26.3,1.8,26.57,1.79,26.8,1.6,27.04,1.51,27.33],
[1.52,27.75,1.57,27.92,1.67,27.95,1.82,27.75,1.98,27.42,2.08,27.27,2.25,27.19,2.43,27.16,2.66,27.19,2.83,27.01,2.93,26.62,2.98,26.33,2.97,26.12,2.88,25.94,2.66,25.83,2.43,25.94,2.18,26.12,2,26.36,1.98,26.74,1.92,26.95,1.75,27.1,1.57,27.36],
[1.57,27.6,1.62,27.81,1.71,27.84,1.82,27.6,1.87,27.39,1.82,27.27,1.75,27.27,1.62,27.39],
[2.06,26.74,2.1,27.07,2.23,27.16,2.43,27.13,2.66,27.13,2.81,26.98,2.92,26.56,2.95,26.33,2.92,26.09,2.81,25.94,2.66,25.89,2.48,26,2.23,26.21,2.1,26.39],
[2.16,26.62,2.23,26.92,2.43,26.95,2.66,26.98,2.81,26.86,2.91,26.56,2.93,26.33,2.9,26.09,2.78,25.97,2.66,25.91,2.48,26.06,2.28,26.27,2.19,26.45],
[2.34,26.51,2.4,26.65,2.68,26.79,2.78,26.71,2.86,26.51,2.87,26.36,2.82,26.15,2.66,26.06,2.53,26.12,2.43,26.27]];

const colorbarTicks=[0,.1,.2,.3,.4,.5];
const colormapValues=[0,.1,.2,.3,.4,.5];
const colormapColors=[[247,251,255],[210,228,243],[143,202,227],[0,165,213],[11,99,172],[3,48,110]];

/* ---------- helpers ---------- */
const NS='http://www.w3.org/2000/svg';
const svg=document.getElementById('fig');
function mk(tag,attrs,parent){
  const el=document.createElementNS(NS,tag);
  for(const k in attrs){el.setAttribute(k,attrs[k]);}
  (parent||svg).appendChild(el);
  return el;
}
function fmt(v,dec){
  const s=dec?v.toFixed(dec):String(v);
  return s.replace('-','\u2212');
}
function scaleX(P){return v=>P.left+(v-P.xDomain[0])/(P.xDomain[1]-P.xDomain[0])*(P.right-P.left);}
function scaleY(P){return v=>P.bottom-(v-P.yDomain[0])/(P.yDomain[1]-P.yDomain[0])*(P.bottom-P.top);}
function cmap(v){
  let i=0;
  while(i<colormapValues.length-2&&v>colormapValues[i+1]){i++;}
  const t=(v-colormapValues[i])/(colormapValues[i+1]-colormapValues[i]);
  const a=colormapColors[i],b=colormapColors[i+1];
  return 'rgb('+a.map((c,k)=>Math.round(c+(b[k]-c)*t)).join(',')+')';
}
function smooth(pts){
  const n=pts.length;
  let d='M'+pts[0][0].toFixed(1)+','+pts[0][1].toFixed(1);
  for(let i=0;i<n;i++){
    const p0=pts[(i-1+n)%n],p1=pts[i],p2=pts[(i+1)%n],p3=pts[(i+2)%n];
    d+='C'+(p1[0]+(p2[0]-p0[0])/6).toFixed(1)+','+(p1[1]+(p2[1]-p0[1])/6).toFixed(1)+' '+(p2[0]-(p3[0]-p1[0])/6).toFixed(1)+','+(p2[1]-(p3[1]-p1[1])/6).toFixed(1)+' '+p2[0].toFixed(1)+','+p2[1].toFixed(1);
  }
  return d+'Z';
}
function drawAxes(P,g,xT,yT){
  const sx=scaleX(P),sy=scaleY(P);
  const frame=mk('rect',{x:P.left,y:P.top,width:P.right-P.left,height:P.bottom-P.top,fill:'none',stroke:'#666','stroke-width':3},g);
  
  
  const font='"DejaVu Sans",sans-serif';
  xT.forEach(v=>{
    const t=mk('line',{x1:sx(v),x2:sx(v),y1:P.bottom,y2:P.bottom+10,stroke:'#555','stroke-width':2.5},g);
    
    
    const l=mk('text',{x:sx(v),y:P.xTickY,'font-family':font,'font-size':P.font,'text-anchor':'middle',fill:'#111'},g);
    
    
    l.textContent=fmt(v,P.xDec);
  });
  yT.forEach(v=>{
    const t=mk('line',{x1:P.left-10,x2:P.left,y1:sy(v),y2:sy(v),stroke:'#555','stroke-width':2.5},g);
    
    
    const l=mk('text',{x:P.left-P.yGap,y:sy(v)+P.font*.36,'font-family':font,'font-size':P.font,'text-anchor':'end',fill:'#111'},g);
    
    
    l.textContent=fmt(v,0);
  });
  const xl=mk('text',{x:P.xLabel[0],y:P.xLabel[1],'font-family':font,'font-size':P.font,'text-anchor':'middle',fill:'#111'},g);
  
  
  xl.textContent='LAI';
  const yl=mk('text',{x:P.yLabel[0],y:P.yLabel[1],'font-family':font,'font-size':P.font,'text-anchor':'middle',fill:'#111',transform:'rotate(-90 '+P.yLabel[0]+' '+P.yLabel[1]+')'},g);
  
  
  yl.textContent='T';
}
function drawScatter(name,P,xT,yT,data){
  const g=mk('g',{});
  
  
  const sx=scaleX(P),sy=scaleY(P);
  for(let i=0;i<data.length;i+=2){
    const c=mk('circle',{cx:sx(data[i]).toFixed(1),cy:sy(data[i+1]).toFixed(1),r:9.5,fill:'#0000ff','fill-opacity':.64},g);
    
    
  }
  drawAxes(P,g,xT,yT);
}
let cbId=0;
function drawKde(name,P,xT,yT,levels,contours){
  const g=mk('g',{});
  
  
  const sx=scaleX(P),sy=scaleY(P);
  contours.forEach((flat,k)=>{
    const pts=[];
    for(let i=0;i<flat.length;i+=2){pts.push([sx(flat[i]),sy(flat[i+1])]);}
    const p=mk('path',{d:smooth(pts),fill:cmap(levels[k])},g);
    
    
  });
  drawAxes(P,g,xT,yT);
  const id='cbGrad'+(cbId++);
  const grad=mk('linearGradient',{id:id,x1:0,y1:1,x2:0,y2:0},g);
  colormapValues.forEach((v,k)=>{
    mk('stop',{offset:v/.5,'stop-color':cmap(v)},grad);
  });
  const bar=mk('rect',{x:P.cb[0],y:P.top,width:P.cb[1]-P.cb[0],height:P.bottom-P.top,fill:'url(#'+id+')',stroke:'#777','stroke-width':2.5},g);
  
  
  const font='"DejaVu Sans",sans-serif';
  colorbarTicks.forEach(v=>{
    const y=P.bottom-(v/.5)*(P.bottom-P.top);
    const t=mk('line',{x1:P.cb[1],x2:P.cb[1]+7,y1:y,y2:y,stroke:'#555','stroke-width':2.5},g);
    
    
    const l=mk('text',{x:P.cb[1]+13,y:y+P.font*.36,'font-family':font,'font-size':P.font,fill:'#111'},g);
    
    
    l.textContent=v.toFixed(1);
  });
}

/* ---------- panels ---------- */
drawScatter('scatter-panel-a',{left:719,right:1515,top:35,bottom:831,xDomain:[-.191,3.26],yDomain:[-39.03,20.37],font:48,xTickY:885,yGap:15,xLabel:[1117,940],yLabel:[584,435]},xTicksA,yTicksA,scatterA);
drawScatter('scatter-panel-d',{left:685,right:1514,top:1098,bottom:1928,xDomain:[.406,3.541],yDomain:[-.747,31.9],font:48,xTickY:1983,yGap:15,xLabel:[1100,2039],yLabel:[584,1513]},xTicksD,yTicksD,scatterD);
drawScatter('scatter-panel-g',{left:685,right:1514,top:2203,bottom:3034,xDomain:[.315,3.419],yDomain:[24.42,33.25],font:48,xTickY:3090,yGap:15,xLabel:[1100,3146],yLabel:[584,2620]},xTicksG,yTicksG,scatterG);
drawScatter('scatter-panel-j',{left:685,right:1514,top:3318,bottom:4147,xDomain:[.998,3.194],yDomain:[24.33,30.47],font:48,xDec:1,xTickY:4204,yGap:15,xLabel:[1100,4261],yLabel:[584,3733]},xTicksJ,yTicksJ,scatterJ);

drawKde('density-panel-b',{left:1770,right:2586,top:42,bottom:851,xDomain:[-.877,3.943],yDomain:[-50.54,32.01],font:36,xTickY:891,yGap:13,xLabel:[2177,934],yLabel:[1665,447],cb:[2635,2677]},xTicksB,yTicksB,kdeBLevels,kdeBContours);
drawKde('density-panel-e',{left:1742,right:2585,top:1114.5,bottom:1951,xDomain:[-.218,4.166],yDomain:[-6.49,37.63],font:36,xTickY:1993,yGap:13,xLabel:[2162,2037],yLabel:[1657,1534],cb:[2637,2680]},xTicksE,yTicksE,kdeELevels,kdeEContours);
drawKde('density-panel-h',{left:1726,right:2590,top:2211,bottom:3068,xDomain:[-.314,4.056],yDomain:[23.47,34.2],font:36,xTickY:3111,yGap:13,xLabel:[2157,3154],yLabel:[1646,2641],cb:[2642,2687]},xTicksH,yTicksH,kdeHLevels,kdeHContours);
drawKde('density-panel-k',{left:1720,right:2596,top:3320,bottom:4187,xDomain:[.657,3.543],yDomain:[23.9,30.89],font:36,xDec:1,xTickY:4231,yGap:13,xLabel:[2157,4275],yLabel:[1640,3754],cb:[2650,2694]},xTicksK,yTicksK,kdeKLevels,kdeKContours);

/* ---------- causal diagrams ---------- */
const warmTop=[['#d08a70','#d9a088','#f8ddd0'],['#fde0d2','#fdcbb2','#fdb59a']];
const warmBottom=[['#cf8a74','#b5504a','#a81c2a'],['#d8303a','#e06a5c','#fbb09a']];
const coolTop=[['#d69a68','#cf6b42','#f2683f'],['#fb5f3b','#fe8a5c','#ffbb8a']];
const coolBottom=[['#3a79a8','#5b9dbc','#a0d8ea'],['#7ecfea','#74bbe0','#4896cc']];
const arcShapes=[
 'M2985,409C2985,330 3110,262 3254,261C3120,268 3025,340 3025,409Z',
 'M3254,261C3380,262 3505,315 3512,372L3532,372L3502,409L3460,372L3475,372C3450,320 3360,270 3254,261Z',
 'M3521,544C3521,620 3400,688 3254,688C3380,682 3484,620 3484,544Z',
 'M3254,688C3130,690 3010,640 2990,581L2977,581L3004,546L3046,581L3032,581C3060,630 3150,680 3254,688Z'];
const arcGradientEnds=[[3005,409,3254,261],[3254,261,3502,372],[3502,544,3254,688],[3254,688,3004,546]];
function gradient(id,ends,colors,parent){
  const gr=mk('linearGradient',{id:id,gradientUnits:'userSpaceOnUse',x1:ends[0],y1:ends[1],x2:ends[2],y2:ends[3]},parent);
  colors.forEach((c,i)=>{mk('stop',{offset:i/(colors.length-1),'stop-color':c},gr);});
}
function drawDiagram(name,dy,topC,bottomC,arrowC){
  const g=mk('g',{transform:'translate(0,'+dy+')'});
  
  
  const glowT=mk('circle',{cx:3007.5,cy:474.6,r:104,fill:'url(#glowT)'},g);
  
  
  const glowL=mk('circle',{cx:3501,cy:476,r:104,fill:'url(#glowL)'},g);
  
  
  const sets=[topC[0],topC[1],bottomC[0],bottomC[1]];
  arcShapes.forEach((d,i)=>{
    const sh=mk('path',{d:d,fill:'#777','fill-opacity':.75,filter:'url(#shadowBlur)',transform:'translate(0,'+(i<2?-8:8)+')'},g);
    
    
  });
  arcShapes.forEach((d,i)=>{
    const id=name+'-arc'+i;
    gradient(id,arcGradientEnds[i],sets[i],g);
    const a=mk('path',{d:d,fill:'url(#'+id+')'},g);
    
    
  });
  const idD=name+'-double';
  gradient(idD,[3096,479,3409,479],arrowC,g);
  const dbl=mk('path',{d:'M3096,479L3116,459L3116,468L3389,468L3389,459L3409,479L3389,500L3389,491L3116,491L3116,500Z',fill:'url(#'+idD+')'},g);
  
  
  const ballT=mk('ellipse',{cx:3007.5,cy:474.6,rx:69,ry:66,fill:'url(#ballT)'},g);
  
  
  const ballL=mk('ellipse',{cx:3501,cy:476,rx:69,ry:68,fill:'url(#ballL)'},g);
  
  
  const tT=mk('text',{x:3007,y:504,'font-family':'"Liberation Sans",sans-serif','font-size':56,'text-anchor':'middle',fill:'#fff'},g);
  
  
  tT.textContent='T';
  const tL=mk('text',{x:3500,y:497,'font-family':'"Liberation Sans",sans-serif','font-size':50,'text-anchor':'middle',fill:'#fff',textLength:70,lengthAdjust:'spacingAndGlyphs'},g);
  
  
  tL.textContent='LAI';
  const n1=mk('text',{x:3254,y:282,'font-family':'"Liberation Sans",sans-serif','font-weight':'bold','font-size':72,'text-anchor':'middle',fill:'#000'},g);
  
  
  n1.textContent='1';
  const n2=mk('text',{x:3254,y:717,'font-family':'"Liberation Sans",sans-serif','font-weight':'bold','font-size':72,'text-anchor':'middle',fill:'#000'},g);
  
  
  n2.textContent='1';
}
drawDiagram('diagram-c',0,warmTop,warmBottom,['#8e0c2a','#c8242c','#fb4a35','#fc9070']);
drawDiagram('diagram-f',1088,warmTop,warmBottom,['#8e0c2a','#c8242c','#fb4a35','#fc9070']);
drawDiagram('diagram-i',2195,coolTop,coolBottom,['#7fa8c0','#60aad2','#98d0e4','#9ad8e0']);
drawDiagram('diagram-l',3308,coolTop,coolBottom,['#ef7a42','#f58a55','#fba777','#fdbd98']);
</script>
</body>
</html>
